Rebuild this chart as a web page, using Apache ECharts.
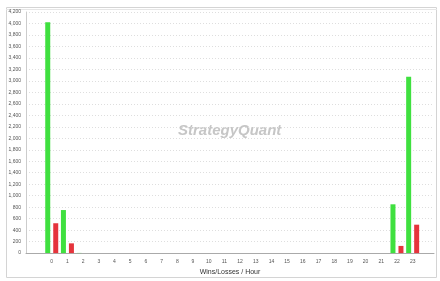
<!DOCTYPE html>
<html>
<head>
<meta charset="utf-8">
<script src="https://cdn.jsdelivr.net/npm/echarts@6/dist/echarts.min.js"></script>
<style>
  html, body { margin: 0; padding: 0; background: #fff; }
  #chart { width: 440px; height: 281px; }
</style>
</head>
<body>
<div id="chart"></div>
<script>
// 数据
var hours = [0, 1, 2, 3, 4, 5, 6, 7, 8, 9, 10, 11, 12, 13, 14, 15, 16, 17, 18, 19, 20, 21, 22, 23];
var wins = [4020, 750, 3, 0, 0, 0, 0, 0, 0, 0, 0, 0, 0, 0, 0, 0, 0, 0, 0, 0, 0, 0, 850, 3070];
var losses = [520, 170, 0, 0, 0, 0, 0, 0, 0, 0, 0, 0, 0, 0, 0, 0, 0, 0, 0, 0, 0, 0, 125, 495];

function pairs(vals) {
    return hours.map(function (h, i) { return [h, vals[i]]; });
}

var chart = echarts.init(document.getElementById('chart'));

var option = {
    animation: false,
    grid: { left: 26, right: 6, top: 12, bottom: 25 },
    graphic: [
        { type: 'rect', shape: { x: 6.5, y: 7.5, width: 430, height: 270 },
          style: { fill: 'none', stroke: '#d4d4d4', lineWidth: 1 }, z: -1 },
        { type: 'line', shape: { x1: 6, y1: 9.5, x2: 437, y2: 9.5 },
          style: { stroke: '#e6e6e6', lineWidth: 1 }, z: -1 },
        { type: 'text', left: 178, top: 123,
          style: { text: 'StrategyQuant', fill: '#c6c6c6',
                   font: 'italic bold 15px "Liberation Sans"' }, z: -1 }
    ],
    xAxis: {
        type: 'value',
        min: -1.64,
        max: 24.36,
        name: 'Wins/Losses / Hour',
        nameLocation: 'middle',
        nameGap: 15,
        nameTextStyle: { fontSize: 7, color: '#333', fontFamily: 'Liberation Sans' },
        axisLine: { show: true, lineStyle: { color: '#aaa' } },
        axisTick: { show: false },
        splitLine: { show: false },
        axisLabel: {
            customValues: hours,
            fontSize: 5,
            color: '#555',
            margin: 6
        }
    },
    yAxis: {
        type: 'value',
        min: 0,
        max: 4200,
        interval: 200,
        axisLine: { show: true, onZero: false, lineStyle: { color: '#ccc' } },
        axisTick: { show: false },
        axisLabel: {
            fontSize: 5,
            color: '#555',
            margin: 5,
            formatter: function (v) { return v.toLocaleString('en-US'); }
        },
        splitLine: { lineStyle: { color: '#dedede', type: [1, 2] } }
    },
    series: [
        {
            name: 'Wins', type: 'bar', data: pairs(wins),
            barWidth: 5, barGap: '60%',
            itemStyle: { color: '#3fe03f' }
        },
        {
            name: 'Losses', type: 'bar', data: pairs(losses),
            barWidth: 5, barGap: '60%',
            itemStyle: { color: '#e5343c' }
        }
    ]
};

chart.setOption(option);
window.addEventListener('resize', function () {
    chart.resize();
});
</script>
</body>
</html>
